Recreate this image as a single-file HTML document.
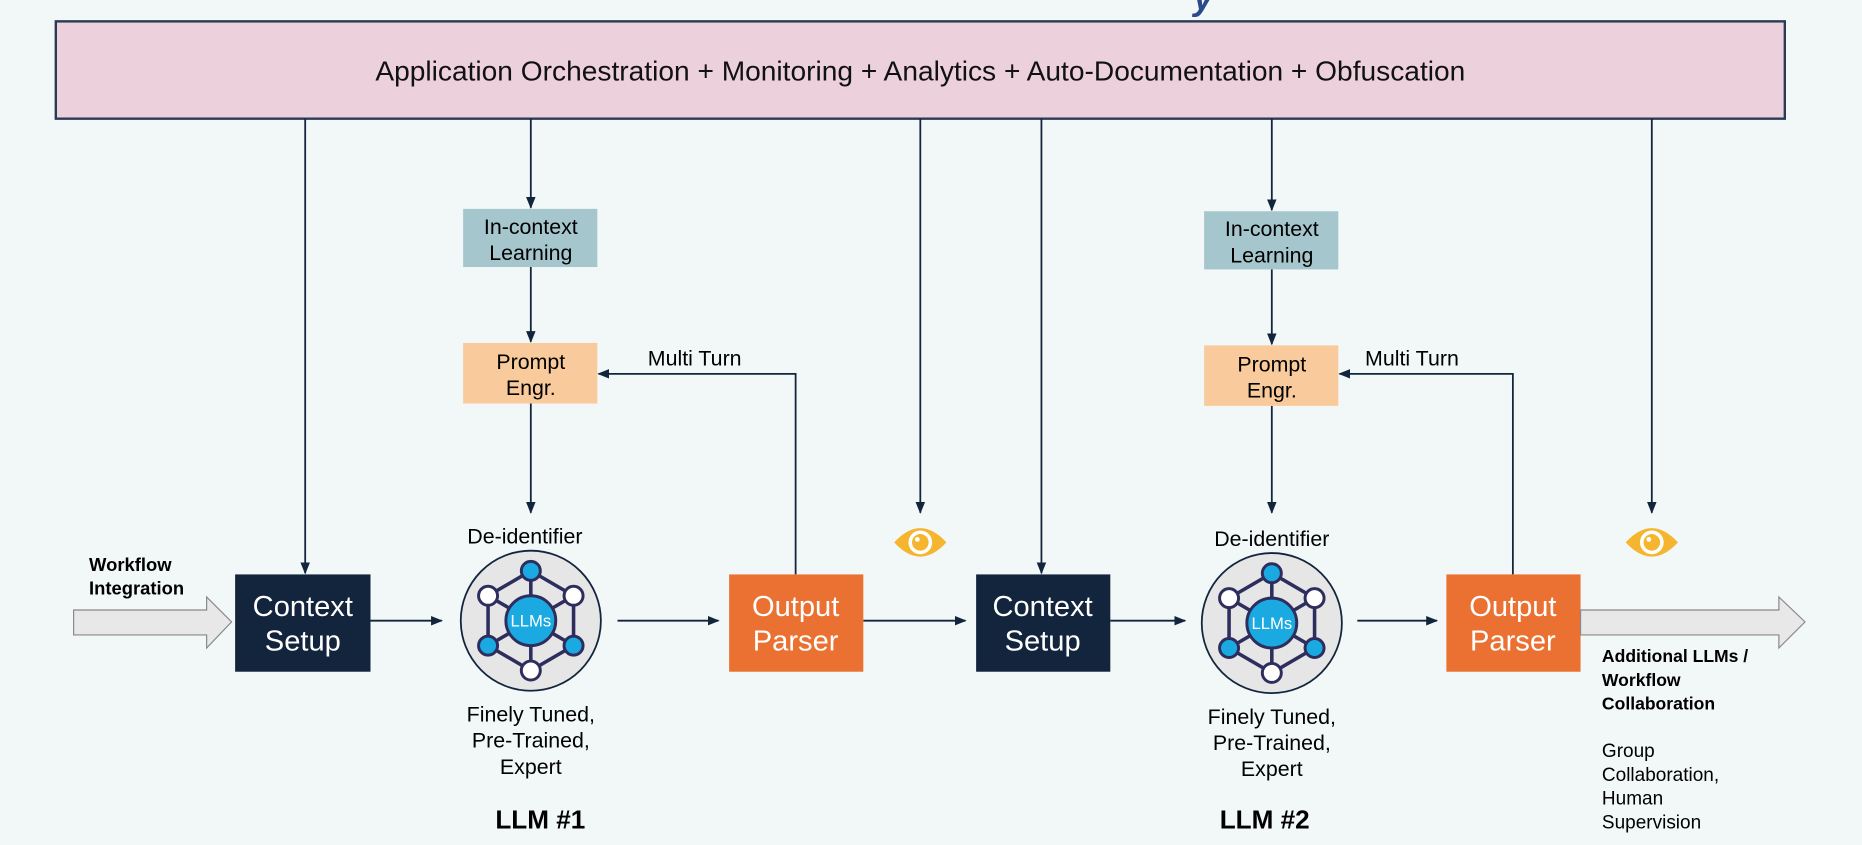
<!DOCTYPE html>
<html><head><meta charset="utf-8"><style>
html,body{margin:0;padding:0;background:#f2f7f7;overflow:hidden}
#w{width:1568px;height:712px;transform:scale(1.18750,1.18680);transform-origin:0 0;position:relative}
svg text{font-family:"Liberation Sans",sans-serif}
</style></head><body><div id="w">
<svg width="1568" height="712" viewBox="0 0 1568 712">
<defs>
<marker id="a" markerWidth="10" markerHeight="10" refX="9" refY="5" orient="auto" markerUnits="userSpaceOnUse"><path d="M0,1 L10,5 L0,9 Z" fill="#13253d"/></marker>
<g id="llm">
<circle r="59" fill="#e6e6e6" stroke="#13253d" stroke-width="1.5"/>
<g stroke="#2e2e5e" stroke-width="3" fill="none">
<polygon points="0,-42 36,-21 36,21 0,42 -36,21 -36,-21"/>
<line x1="0" y1="-42" x2="0" y2="42"/><line x1="-36" y1="-21" x2="36" y2="21"/><line x1="36" y1="-21" x2="-36" y2="21"/>
</g>
<g stroke="#2e2e5e" stroke-width="2.5">
<circle cx="0" cy="-42" r="8" fill="#1aa9e1"/><circle cx="36" cy="-21" r="8" fill="#fff"/><circle cx="36" cy="21" r="8" fill="#1aa9e1"/>
<circle cx="0" cy="42" r="8" fill="#fff"/><circle cx="-36" cy="21" r="8" fill="#1aa9e1"/><circle cx="-36" cy="-21" r="8" fill="#fff"/>
<circle r="21" fill="#1aa9e1"/>
</g>
<text y="5" text-anchor="middle" font-size="14" fill="#fff">LLMs</text>
</g>
<g id="eye">
<path d="M-22,0 Q0,-24 22,0 Q0,24 -22,0 Z" fill="#f5b52e"/>
<circle r="10" fill="#fff"/><circle r="7" fill="#f5b52e"/><circle cx="-2.5" cy="-2.5" r="2" fill="#fff"/>
</g>
</defs>
<text x="1005" y="8" font-size="30" font-style="italic" font-weight="bold" fill="#2a4a8a">y</text>
<rect x="47" y="18" width="1456" height="82" fill="#ecd1dc" stroke="#2a3a55" stroke-width="2"/>
<text x="775" y="68" text-anchor="middle" font-size="23.7" fill="#111">Application Orchestration + Monitoring + Analytics + Auto-Documentation + Obfuscation</text>
<g stroke="#13253d" stroke-width="1.5" fill="none" marker-end="url(#a)">
<line x1="257" y1="100" x2="257" y2="483"/>
<line x1="447" y1="100" x2="447" y2="175"/>
<line x1="447" y1="225" x2="447" y2="288"/>
<line x1="447" y1="340" x2="447" y2="432"/>
<line x1="775" y1="100" x2="775" y2="432"/>
<line x1="877" y1="100" x2="877" y2="483"/>
<line x1="1071" y1="100" x2="1071" y2="177"/>
<line x1="1071" y1="227" x2="1071" y2="290"/>
<line x1="1071" y1="342" x2="1071" y2="432"/>
<line x1="1391" y1="100" x2="1391" y2="432"/>
<line x1="312" y1="523" x2="372" y2="523"/>
<line x1="520" y1="523" x2="605" y2="523"/>
<line x1="727" y1="523" x2="813" y2="523"/>
<line x1="935" y1="523" x2="998" y2="523"/>
<line x1="1143" y1="523" x2="1210" y2="523"/>
<polyline points="670,484 670,315 504,315"/>
<polyline points="1274,484 1274,315 1128,315"/>
</g>
<g font-size="18" text-anchor="middle">
<rect x="390" y="176" width="113" height="49" fill="#a4c6cc"/>
<text x="447" y="197">In-context</text>
<text x="447" y="219">Learning</text>
<rect x="1014" y="178" width="113" height="49" fill="#a4c6cc"/>
<text x="1071" y="199">In-context</text>
<text x="1071" y="221">Learning</text>
<rect x="390" y="289" width="113" height="51" fill="#f9cb9c"/>
<text x="447" y="311">Prompt</text>
<text x="447" y="333">Engr.</text>
<rect x="1014" y="291" width="113" height="51" fill="#f9cb9c"/>
<text x="1071" y="313">Prompt</text>
<text x="1071" y="335">Engr.</text>
<text x="585" y="308">Multi Turn</text>
<text x="1189" y="308">Multi Turn</text>
</g>
<g font-size="24.5" text-anchor="middle" fill="#fff">
<rect x="198" y="484" width="114" height="82" fill="#13253d"/>
<text x="255" y="519">Context</text>
<text x="255" y="548">Setup</text>
<rect x="822" y="484" width="113" height="82" fill="#13253d"/>
<text x="878" y="519">Context</text>
<text x="878" y="548">Setup</text>
<rect x="614" y="484" width="113" height="82" fill="#ea7131"/>
<text x="670" y="519">Output</text>
<text x="670" y="548">Parser</text>
<rect x="1218" y="484" width="113" height="82" fill="#ea7131"/>
<text x="1274" y="519">Output</text>
<text x="1274" y="548">Parser</text>
</g>
<g font-size="18" text-anchor="middle">
<text x="442" y="458">De-identifier</text>
<text x="1071" y="460">De-identifier</text>
<text x="447" y="608">Finely Tuned,</text>
<text x="447" y="630">Pre-Trained,</text>
<text x="447" y="652">Expert</text>
<text x="1071" y="610">Finely Tuned,</text>
<text x="1071" y="632">Pre-Trained,</text>
<text x="1071" y="654">Expert</text>
</g>
<use href="#llm" x="447" y="523"/>
<use href="#llm" x="1071" y="525"/>
<text x="455" y="698" text-anchor="middle" font-size="22" font-weight="bold">LLM #1</text>
<text x="1065" y="698" text-anchor="middle" font-size="22" font-weight="bold">LLM #2</text>
<use href="#eye" x="775" y="457"/>
<use href="#eye" x="1391" y="457"/>
<path d="M62,514 L174,514 L174,503 L195,524 L174,546 L174,535 L62,535 Z" fill="#e8e8e8" stroke="#888" stroke-width="1"/>
<path d="M1331,514 L1498,514 L1498,503 L1520,524 L1498,546 L1498,535 L1331,535 Z" fill="#e8e8e8" stroke="#888" stroke-width="1"/>
<text x="75" y="481" font-size="15.5" font-weight="bold">Workflow</text>
<text x="75" y="501" font-size="15.5" font-weight="bold">Integration</text>
<text x="1349" y="558" font-size="14.8" font-weight="bold">Additional LLMs /</text>
<text x="1349" y="578" font-size="14.8" font-weight="bold">Workflow</text>
<text x="1349" y="598" font-size="14.8" font-weight="bold">Collaboration</text>
<g font-size="16">
<text x="1349" y="638">Group</text>
<text x="1349" y="658">Collaboration,</text>
<text x="1349" y="678">Human</text>
<text x="1349" y="698">Supervision</text>
</g>
</svg>
</div></body></html>
